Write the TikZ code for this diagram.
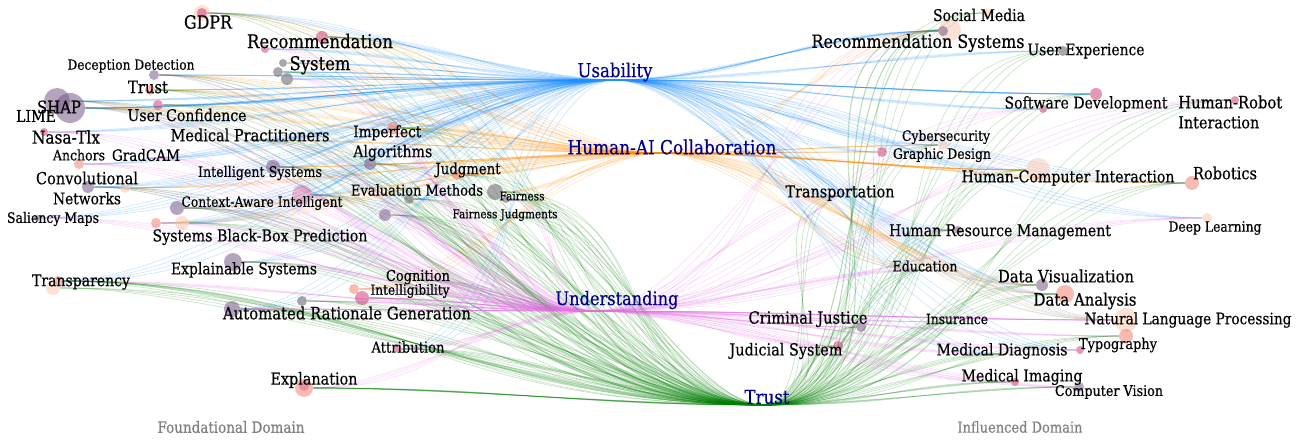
\documentclass[tikz,border=0pt]{standalone}
\usepackage{fontspec}
\setmainfont{DejaVu Serif}[FakeBold=0.4]
\usepackage{graphicx}
\usetikzlibrary{backgrounds}
\newlength\pxu \setlength\pxu{0.75pt}
\definecolor{cU}{RGB}{30,144,255}
\definecolor{cH}{RGB}{255,140,0}
\definecolor{cD}{RGB}{232,110,232}
\definecolor{cT}{RGB}{0,128,0}
\definecolor{hubtxt}{RGB}{0,0,139}
\definecolor{gpC}{RGB}{120,90,135}
\definecolor{pkC}{RGB}{200,50,110}
\definecolor{saC}{RGB}{240,120,100}
\definecolor{grC}{RGB}{95,95,105}
\definecolor{psC}{RGB}{250,190,160}
\definecolor{domC}{RGB}{128,128,128}
\tikzset{
 dot/.style={circle, inner sep=0pt, draw=none},
 gp/.style={dot, fill=gpC, fill opacity=0.55},
 pk/.style={dot, fill=pkC, fill opacity=0.5},
 pkf/.style={dot, fill=pkC, fill opacity=0.3},
 sa/.style={dot, fill=saC, fill opacity=0.5},
 gr/.style={dot, fill=grC, fill opacity=0.55},
 ps/.style={dot, fill=psC, fill opacity=0.45},
 lab/.style={inner sep=0pt, text=black},
 hublab/.style={inner sep=0pt, text=hubtxt},
 domlab/.style={inner sep=0pt, text=domC},
 edge/.style={line width=0.55pt, draw opacity=0.2},
}
\newcommand\fit[2]{\scalebox{1}[1.15]{\resizebox{#1\pxu}{!}{#2}}}
\newcommand\dotnode[5]{\node[#5, minimum size=#4*1.5pt] (#1) at (#2,#3) {};}
\newcommand\lab[5]{\node[lab] (#1) at (#2,#3) {\fit{#4}{#5}};}
\newcommand\Ledges[2]{\foreach \h in {#2}{\foreach \l in {0.6,0.8,1.0,1.25}{\draw[edge, draw=c\h, looseness=\l] (#1) to[out=0,in=180] (hub\h);}}}
\newcommand\Redges[2]{\foreach \h in {#2}{\foreach \l in {0.6,0.8,1.0,1.25}{\draw[edge, draw=c\h, looseness=\l] (hub\h) to[out=0,in=180] (#1);}}}
\newcommand\Lbundle[2]{\foreach \l in {0.85,0.9,0.95,1.0,1.05}{\draw[edge, draw=c#2, looseness=\l] (#1) to[out=0,in=180] (hub#2);}}
\newcommand\Rbundle[2]{\foreach \l in {0.85,0.9,0.95,1.0,1.05}{\draw[edge, draw=c#2, looseness=\l] (hub#2) to[out=0,in=180] (#1);}}
\begin{document}
\begin{tikzpicture}[x=0.75pt,y=-0.75pt]
\useasboundingbox (0,0) rectangle (1302,441);
% hubs
\coordinate (hubU) at (615,80);
\coordinate (hubH) at (660,153);
\coordinate (hubD) at (595,311);
\coordinate (hubT) at (765,405);
% left dots
\dotnode{gdprh}{202}{13}{8}{ps}
\dotnode{gdpr}{202}{13}{5}{pk}
\dotnode{recL}{322}{37}{6}{pk}
\dotnode{recLb}{265}{49}{4}{pk}
\dotnode{sysA}{283}{63}{4}{gr}
\dotnode{sysB}{278}{72}{5}{gr}
\dotnode{sysC}{287}{79}{6}{gr}
\dotnode{decep}{154}{75}{5}{gp}
\dotnode{trustL}{150}{90}{5}{sa}
\dotnode{shapA}{57}{101}{13}{gp}
\dotnode{shapB}{70}{108}{15}{gp}
\dotnode{ucon}{158}{105}{5}{pk}
\dotnode{nasa}{44}{132}{4}{pk}
\coordinate (medP) at (250,140);
\dotnode{impA}{393}{128}{6}{sa}
\dotnode{impB}{370}{164}{6}{gp}
\dotnode{anch}{79}{164}{5}{sa}
\coordinate (gradc) at (146,158);
\dotnode{conv}{88}{187}{6}{gp}
\dotnode{convB}{125}{188}{5}{ps}
\dotnode{intS}{273}{167}{7}{gp}
\dotnode{judg}{457}{175}{5}{sa}
\dotnode{evalA}{409}{199}{5}{gr}
\dotnode{evalB}{385}{215}{6}{gp}
\dotnode{fairA}{495}{192}{8}{gr}
\dotnode{fairB}{506}{199}{4}{gr}
\coordinate (fairJ) at (505,215);
\dotnode{ctxA}{177}{208}{7}{gp}
\dotnode{ctxB}{302}{195}{10}{pkf}
\dotnode{sal}{37}{218}{3}{gp}
\dotnode{sbbA}{156}{223}{5}{sa}
\dotnode{sbbB}{182}{223}{7}{ps}
\dotnode{expS}{233}{262}{9}{gp}
\dotnode{transB}{53}{288}{7}{ps}
\dotnode{transA}{58}{281}{5}{sa}
\coordinate (cogn) at (418,280);
\dotnode{intelA}{354}{289}{5}{sa}
\dotnode{intelB}{362}{298}{7}{pk}
\dotnode{argB}{302}{301}{5}{gr}
\dotnode{argA}{232}{309}{8}{gp}
\dotnode{attr}{398}{349}{4}{pk}
\dotnode{expl}{304}{388}{9}{sa}
\dotnode{explc}{304}{386}{5}{pkf}
% right dots
\dotnode{soc}{950}{30}{11}{ps}
\dotnode{recR}{943}{31}{5}{gp}
\dotnode{socC}{987}{13}{5}{ps}
\dotnode{ux}{1063}{51}{5}{gr}
\dotnode{swA}{1096}{94}{6}{pk}
\dotnode{swB}{1043}{109}{4}{pk}
\dotnode{hri}{1235}{100}{4}{pk}
\dotnode{cyber}{943}{145}{5}{ps}
\dotnode{gd}{882}{152}{5}{pk}
\dotnode{hci}{1038}{170}{12}{ps}
\dotnode{robo}{1192}{183}{7}{sa}
\coordinate (transp) at (840,196);
\dotnode{deep}{1207}{218}{5}{ps}
\dotnode{hrm}{958}{230}{4}{gp}
\coordinate (edu) at (926,270);
\dotnode{dviz}{1042}{285}{6}{gp}
\dotnode{dana}{1065}{294}{9}{sa}
\dotnode{nlpA}{1126}{320}{12}{ps}
\dotnode{nlpB}{1126}{336}{7}{sa}
\dotnode{crim}{861}{327}{5}{gp}
\coordinate (ins) at (956,322);
\dotnode{jud}{838}{346}{5}{pk}
\coordinate (mdiag) at (1001,354);
\dotnode{typo}{1080}{350}{4}{pk}
\dotnode{mimg}{1015}{382}{4}{pk}
\dotnode{cv}{1079}{387}{5}{gp}
% edges
\begin{scope}[on background layer]
\fill[white] (0,0) rectangle (1302,441);
\Ledges{gdpr}{U,H,T}
\Ledges{recL}{U,H,T}
\Ledges{recLb}{U,D}
\Ledges{sysA}{U,H}
\Ledges{sysB}{U,T}
\Ledges{sysC}{U,D}
\Ledges{decep}{U,H,D,T}
\Ledges{trustL}{U,H,T}
\Ledges{shapA}{U,D,T}
\Ledges{shapB}{U,H,D,T}
\Ledges{ucon}{U,H,T}
\Ledges{nasa}{U,D}
\Ledges{medP}{U,H,D,T}
\Ledges{impA}{U,H,T}
\Ledges{impB}{H,D,T}
\Ledges{anch}{U,D}
\Ledges{gradc}{U,D}
\Ledges{conv}{U,D,T}
\Ledges{convB}{U,H}
\Ledges{intS}{U,H,D,T}
\Ledges{judg}{H,T}
\Ledges{evalA}{U,D,T}
\Ledges{evalB}{D,T}
\Ledges{fairA}{H,T}
\Ledges{fairB}{D,T}
\Ledges{fairJ}{T}
\Ledges{ctxA}{U,H,D,T}
\Ledges{ctxB}{U,D,T}
\Ledges{sal}{U,D}
\Ledges{sbbA}{U,H,D}
\Ledges{sbbB}{U,T}
\Ledges{expS}{U,D,T}
\Ledges{transA}{U,D,T}
\Ledges{transB}{T}
\Ledges{cogn}{D,T}
\Ledges{intelA}{H,D}
\Ledges{intelB}{D,T}
\Ledges{argB}{D,T}
\Ledges{argA}{U,D,T}
\Ledges{attr}{U,D,T}
\Ledges{expl}{D,T}
\Lbundle{shapB}{U}
\Lbundle{argA}{D}
\Lbundle{intelB}{D}
\Lbundle{expl}{T}
\Lbundle{transA}{T}
\Redges{recR}{U,T,D}
\Redges{soc}{H,T}
\Redges{socC}{T}
\Redges{ux}{U,T}
\Redges{swA}{U,T}
\Redges{swB}{U,D}
\Redges{hri}{T,D}
\Redges{cyber}{U,H,T}
\Redges{gd}{U,H}
\Redges{hci}{U,H,T}
\Redges{robo}{U,H,T}
\Redges{transp}{U,D,T}
\Redges{deep}{U,D}
\Redges{hrm}{U,D,T}
\Redges{edu}{U,H,D,T}
\Redges{dviz}{U,H,T}
\Redges{dana}{U,H,T}
\Redges{nlpA}{U,H,D}
\Redges{nlpB}{D,T}
\Redges{crim}{D,T}
\Redges{ins}{D,T}
\Redges{jud}{D,T}
\Redges{mdiag}{U,D,T}
\Redges{typo}{U,D}
\Redges{mimg}{D,T}
\Redges{cv}{D,T}
\Rbundle{recR}{U}
\Rbundle{swA}{U}
\Rbundle{hci}{H}
\Rbundle{nlpA}{D}
\end{scope}
% left labels
\lab{gdprL}{208}{22}{48}{GDPR}
\node[lab, align=center, font=\fontsize{10pt}{16.5pt}\selectfont] (recLL) at (320,54) {\fit{146}{Recommendation}\\\fit{61}{System}};
\lab{decepL}{131}{66}{127}{Deception Detection}
\lab{trustLL}{148}{87}{40}{Trust}
\lab{shapL}{59}{107}{44}{SHAP}
\lab{limeL}{36}{116}{40}{LIME}
\lab{uconL}{187}{115}{119}{User Confidence}
\lab{nasaL}{66}{137}{68}{Nasa-Tlx}
\lab{medPL}{250}{135}{159}{Medical Practitioners}
\node[lab, align=left, anchor=west, font=\fontsize{10pt}{15pt}\selectfont] (impL) at (353,143) {\fit{68}{Imperfect}\\\fit{79}{Algorithms}};
\lab{anchL}{79}{155}{52}{Anchors}
\lab{gradL}{146}{155}{68}{GradCAM}
\node[lab, align=center, font=\fontsize{10pt}{15pt}\selectfont] (convL) at (87,188) {\fit{102}{Convolutional}\\\fit{68}{Networks}};
\lab{intSL}{260}{173}{124}{Intelligent Systems}
\lab{judgL}{468}{170}{65}{Judgment}
\lab{evalL}{417}{190}{132}{Evaluation Methods}
\lab{fairL}{522}{196}{45}{Fairness}
\lab{fairJL}{505}{215}{105}{Fairness Judgments}
\lab{ctxL}{262}{203}{161}{Context-Aware Intelligent}
\lab{salL}{53}{219}{92}{Saliency Maps}
\lab{sbbL}{260}{237}{215}{Systems Black-Box Prediction}
\lab{expSL}{244}{270}{146}{Explainable Systems}
\lab{transL}{81}{282}{98}{Transparency}
\lab{cognL}{418}{277}{64}{Cognition}
\lab{intelL}{410}{291}{79}{Intelligibility}
\lab{argL}{347}{313}{248}{Automated Rationale Generation}
\lab{attrL}{408}{347}{73}{Attribution}
\lab{explL}{314}{380}{87}{Explanation}
% right labels
\lab{socL}{979}{15}{92}{Social Media}
\lab{recRL}{918}{43}{213}{Recommendation Systems}
\lab{uxL}{1086}{51}{117}{User Experience}
\lab{swL}{1086}{104}{163}{Software Development}
\node[lab, align=left, anchor=west, font=\fontsize{10pt}{15pt}\selectfont] (hriL) at (1178,112) {\fit{104}{Human-Robot}\\\fit{81}{Interaction}};
\lab{cyberL}{946}{137}{88}{Cybersecurity}
\lab{gdL}{942}{155}{98}{Graphic Design}
\lab{hciL}{1068}{178}{213}{Human-Computer Interaction}
\lab{roboL}{1225}{173}{64}{Robotics}
\lab{transpL}{840}{193}{109}{Transportation}
\lab{deepL}{1215}{228}{93}{Deep Learning}
\lab{hrmL}{1000}{232}{222}{Human Resource Management}
\lab{eduL}{925}{266}{65}{Education}
\lab{dvizL}{1066}{276}{136}{Data Visualization}
\lab{danaL}{1085}{301}{103}{Data Analysis}
\lab{nlpL}{1188}{320}{207}{Natural Language Processing}
\lab{crimL}{808}{319}{119}{Criminal Justice}
\lab{insL}{957}{319}{62}{Insurance}
\lab{judL}{786}{351}{113}{Judicial System}
\lab{mdiagL}{1002}{351}{131}{Medical Diagnosis}
\lab{typoL}{1118}{345}{78}{Typography}
\lab{mimgL}{1022}{377}{121}{Medical Imaging}
\lab{cvL}{1109}{392}{108}{Computer Vision}
% hub labels
\node[hublab] (hubUL) at (615,72) {\fit{75}{Usability}};
\node[hublab] (hubHL) at (672,147) {\fit{209}{Human-AI Collaboration}};
\node[hublab] (hubDL) at (617,300) {\fit{123}{Understanding}};
\node[hublab] (hubTL) at (767,397) {\fit{45}{Trust}};
% domain labels
\node[domlab] (domF) at (231,427) {\fit{147}{Foundational Domain}};
\node[domlab] (domI) at (1020,427) {\fit{125}{Influenced Domain}};
\end{tikzpicture}
\end{document}
